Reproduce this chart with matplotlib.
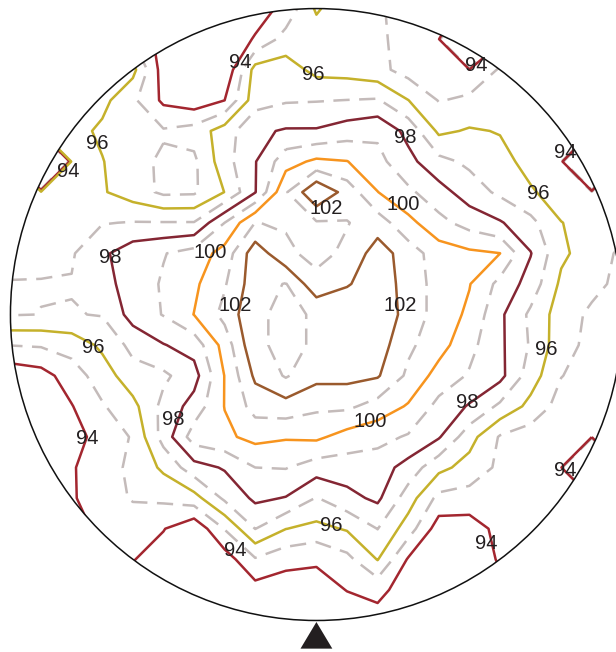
import numpy as np
import matplotlib
matplotlib.use("Agg")
import matplotlib.pyplot as plt
from matplotlib.patches import Circle, Polygon

plt.rcParams["font.family"] = ["Liberation Sans", "DejaVu Sans"]

# Sample grid positions (field radius = 10 steps), rows top to bottom
grid_steps = np.arange(-10, 11)

# Edge cells without a usable reading
NO_READ = 60.0

# Measured values, one row per grid line (top row first), columns left to right
values = np.array([
    [96.5, 96.5, 96.3, 95.5, 94.0, 93.3, 93.2, 93.2, 93.5, 94.3, 96.15, 95.2, 95.1, 94.7, 94.3, 93.8, 93.8, 94.0, 94.5, 95.0, 95.0],
    [96.5, 96.5, 96.5, 96.3, 95.0, 93.5, 93.2, 93.2, 94.1, 95.4, 95.4, 95.5, 95.2, 94.6, 94.3, NO_READ, 93.8, 94.2, 94.8, 95.2, 95.2],
    [96.5, 96.5, 96.5, 96.5, 96.3, 93.5, 93.3, 93.1, 96.4, 96.5, 95.7, 95.6, 95.3, 94.6, 94.3, 94.2, 95.1, 94.8, 95.2, 95.3, 95.3],
    [96.5, 96.5, 96.5, 96.3, 95.2, 93.8, 93.4, 94.0, 96.6, 96.9, 96.95, 97.02, 97.1, 96.02, 94.95, 95.2, 95.3, 95.6, 95.6, 95.5, 95.5],
    [96.5, 96.5, 96.4, 95.8, 95.3, 95.1, 95.4, 96.5, 97.8, 98.1, 98.1, 98.5, 98.8, 97.7, 95.8, 96.1, 95.95, 95.6, 95.4, 95.3, 95.3],
    [96.5, NO_READ, 96.5, 96.05, 95.3, 94.85, 94.8, 96.6, 97.95, 99.6, 100.2, 100.03, 99.3, 98.3, 97.3, 96.8, 96.3, 95.7, 95.5, NO_READ, 95.3],
    [96.5, 96.5, 96.5, 96.1, 95.5, 94.8, 94.85, 96.02, 97.95, 100.9, 102.95, 101.6, 100.02, 99.2, 98.4, 97.5, 96.8, 96.1, 95.6, 95.5, 95.3],
    [96.5, 96.6, 96.7, 96.95, 97.05, 97.05, 97.05, 99.0, 101.02, 100.9, 100.9, 100.95, 101.5, 100.3, 99.3, 98.6, 98.1, 97.3, 96.02, 95.7, 95.4],
    [96.8, 96.85, 96.9, 97.8, 98.6, 98.95, 99.4, 100.4, 102.6, 101.2, 100.7, 101.2, 102.5, 101.5, 100.5, 100.2, 100.01, 98.05, 96.2, 95.5, 94.8],
    [97.03, 97.03, 97.05, 97.6, 98.5, 99.1, 99.8, 100.9, 102.6, 103.05, 101.3, 101.9, 102.6, 101.6, 100.6, 100.05, 98.7, 97.6, 95.8, 95.3, 94.7],
    [97.05, 96.99, 96.95, 97.05, 98.4, 99.05, 100.02, 101.3, 102.85, 103.2, 102.9, 102.9, 102.8, 101.6, 100.6, 99.8, 98.2, 96.8, 95.5, 94.8, 94.6],
    [95.02, 95.1, 95.4, 96.2, 97.3, 97.95, 98.4, 100.4, 102.85, 103.2, 102.9, 102.8, 102.5, 101.2, 100.4, 99.3, 98.2, 96.9, 95.4, 94.7, 94.5],
    [93.3, 93.6, 94.5, 95.5, 96.6, 96.8, 97.6, 100.03, 102.2, 103.1, 102.3, 102.3, 102.1, 100.8, 99.6, 98.9, 98.3, 96.5, 95.03, 94.6, 94.4],
    [93.1, 93.4, 93.95, 94.9, 95.7, 97.3, 98.4, 100.03, 101.4, 101.6, 101.2, 101.2, 100.6, 99.9, 98.7, 97.9, 96.8, 95.7, 94.6, 94.3, 94.2],
    [93.1, 93.2, 93.7, 94.3, 95.1, 97.4, 99.5, 99.8, 100.3, 100.1, 100.2, 99.6, 99.3, 98.9, 98.1, 96.4, 94.9, 94.5, 94.3, 94.2, 94.1],
    [93.1, 93.1, 93.9, 94.6, 95.2, 96.2, 97.6, 98.1, 99.0, 99.05, 98.5, 98.5, 98.5, 97.6, 96.3, 95.6, 94.8, 94.5, 94.3, NO_READ, 94.1],
    [93.1, 93.1, 93.9, 94.5, 95.1, 95.2, 95.6, 97.2, 98.2, 97.95, 96.95, 97.7, 98.2, 96.5, 94.7, 94.6, 94.5, 94.4, 94.3, 94.1, 94.1],
    [93.1, 93.1, 93.5, 94.3, 94.3, 94.05, 93.2, 95.05, 97.02, 96.02, 95.7, 96.1, 97.02, 95.5, 93.5, 93.5, 94.3, 94.3, 94.1, 94.05, 94.05],
    [93.1, 93.1, 93.3, 93.8, 94.05, 93.5, 93.15, 93.5, 94.9, 94.3, 94.1, 94.7, 96.05, 93.9, 93.3, 93.4, 94.1, 94.2, 94.05, 94.05, 94.05],
    [93.1, 93.1, 93.1, 93.3, 93.5, 93.3, 93.15, 93.2, 93.6, 93.5, 93.7, 94.02, 94.3, 93.5, 93.2, 93.4, 93.8, 94.05, 94.05, 94.05, 94.05],
    [93.1, 93.1, 93.1, 93.1, 93.2, 93.2, 93.2, 93.2, 93.3, 93.5, 93.6, 93.6, 93.6, 93.3, 93.2, 93.3, 93.6, 93.9, 94.0, 94.0, 94.0],
])

solid_levels = [94, 96, 98, 100, 102]
solid_colors = ["#A3262F", "#C5B12B", "#842633", "#F7941E", "#9A5A2D"]
dashed_levels = [93, 95, 97, 99, 101, 103]
dashed_color = "#C4BBBA"

# Contour labels: level and placement in grid steps
label_values = [94, 96, 94, 96, 94, 98, 94, 102, 100, 96, 100, 98,
                102, 102, 96, 96, 98, 98, 100, 94, 94, 96, 94, 94]
label_x = [-2.50, -0.11, 5.21, -7.17, -8.12, 2.89, 8.12, 0.31, 2.83, 7.24, -3.48, -6.75,
           -2.66, 2.73, -7.30, 7.50, 4.92, -4.69, 1.75, -7.50, 8.12, 0.47, -2.66, 5.54]
label_y = [-8.25, -7.83, -8.15, -5.60, -4.66, -5.80, -5.31, -3.48, -3.58, -3.97, -2.04, -1.85,
           -0.31, -0.31, 1.09, 1.13, 2.89, 3.42, 3.48, 4.04, 5.11, 6.88, 7.70, 7.47]

fig = plt.figure(figsize=(6.16, 6.52), dpi=100)
ax = fig.add_axes([0, 0, 1, 1])
ax.set_xlim(-10.34, 9.79)
ax.set_ylim(11.03, -10.28)
ax.set_aspect("equal")
ax.axis("off")

X, Y = np.meshgrid(grid_steps, grid_steps)
clip = Circle((0, 0), 10, transform=ax.transData)

cs_dash = ax.contour(X, Y, values, levels=dashed_levels, colors=dashed_color,
                     linewidths=1.8, zorder=2)
cs_dash.set_linestyle((0, (6.5, 3.8)))
cs_dash.set_clip_path(clip)

cs_solid = ax.contour(X, Y, values, levels=solid_levels, colors=solid_colors,
                      linewidths=1.8, linestyles="solid", zorder=3)
cs_solid.set_clip_path(clip)

ax.add_patch(Circle((0, 0), 10, fill=False, edgecolor="#111111", linewidth=1.1, zorder=4))

for v, x, y in zip(label_values, label_x, label_y):
    ax.text(x, y, str(v), ha="center", va="center", fontsize=14.5,
            color="#231F20", zorder=5)

# Fixation marker below the field
ax.add_patch(Polygon([[0, 10.05], [-0.52, 10.92], [0.52, 10.92]], closed=True,
                     facecolor="#231F20", edgecolor="none", zorder=4))

fig.savefig("out.png", dpi=100)
